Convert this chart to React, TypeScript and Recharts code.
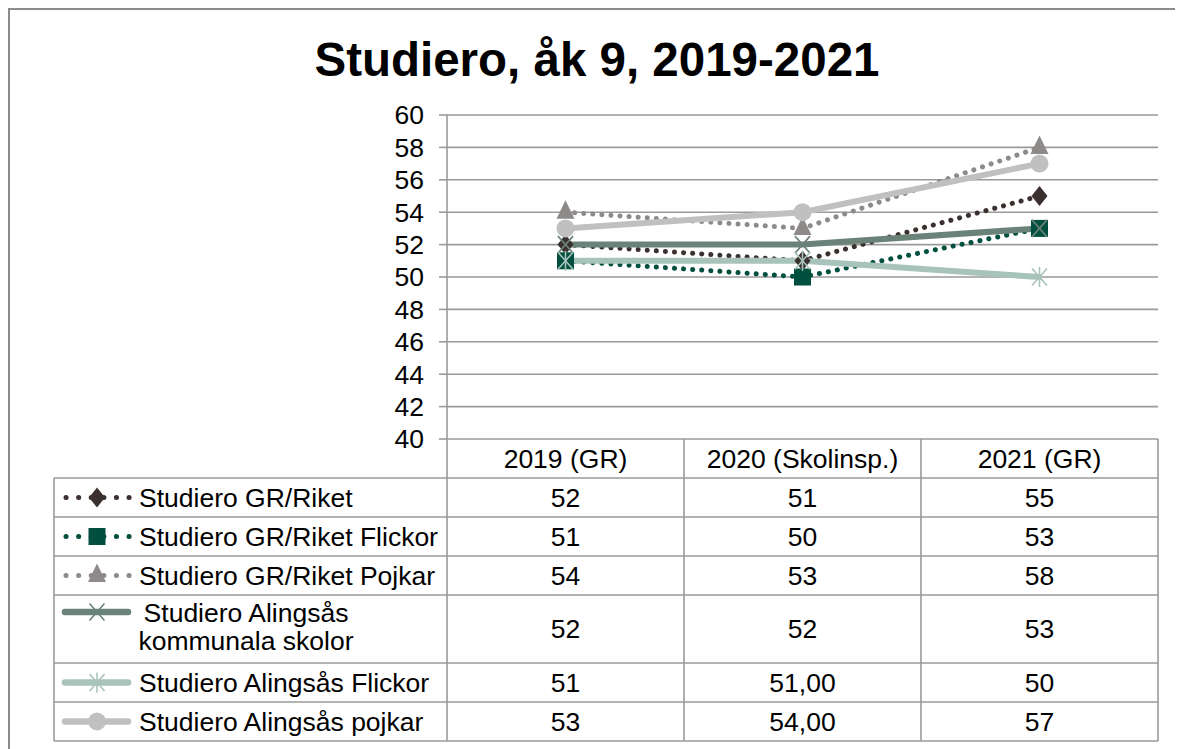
import React from 'react';
import { LineChart, Line, XAxis, YAxis, CartesianGrid } from 'recharts';

const title = 'Studiero, åk 9, 2019-2021';
const categories = ['2019 (GR)', '2020 (Skolinsp.)', '2021 (GR)'];
const seriesNames = [
  'Studiero GR/Riket',
  'Studiero GR/Riket Flickor',
  'Studiero GR/Riket Pojkar',
  'Studiero Alingsås kommunala skolor',
  'Studiero Alingsås Flickor',
  'Studiero Alingsås pojkar',
];
const grRiket = [52, 51, 55];
const grRiketFlickor = [51, 50, 53];
const grRiketPojkar = [54, 53, 58];
const alingsasKommunala = [52, 52, 53];
const alingsasFlickor = [51, 51, 50];
const alingsasPojkar = [53, 54, 57];
const tableLabels = [
  ['52', '51', '55'],
  ['51', '50', '53'],
  ['54', '53', '58'],
  ['52', '52', '53'],
  ['51', '51,00', '50'],
  ['53', '54,00', '57'],
];
const yTicks = [40, 42, 44, 46, 48, 50, 52, 54, 56, 58, 60];

const seriesValues = [grRiket, grRiketFlickor, grRiketPojkar, alingsasKommunala, alingsasFlickor, alingsasPojkar];
const keys = ['s0', 's1', 's2', 's3', 's4', 's5'];
const data = categories.map((c, i) => {
  const row: any = { cat: c };
  seriesValues.forEach((vals, s) => { row[keys[s]] = vals[i]; });
  return row;
});

type Style = { color: string; dotted: boolean; marker: string; width: number };
const styles: Style[] = [
  { color: '#3a302e', dotted: true, marker: 'diamond', width: 5 },
  { color: '#004f3f', dotted: true, marker: 'square', width: 5 },
  { color: '#8e8a8a', dotted: true, marker: 'triangle', width: 5 },
  { color: '#6a8278', dotted: false, marker: 'x', width: 6 },
  { color: '#a8c3bb', dotted: false, marker: 'star', width: 6 },
  { color: '#c0c0c0', dotted: false, marker: 'circle', width: 6 },
];

const FONT = '"Liberation Sans", Arial, sans-serif';
const FS = 26.5;
const W = 1175;
const H = 741;
const PLOT_LEFT = 439;
const PLOT_TOP = 107;
const PLOT_RIGHT = 1150;
const PLOT_BOTTOM = 431;
const YAXIS_W = 80;
const LEGEND_LEFT = 46;
const HEADER_H = 39;
const ROW_H = [39, 39, 39, 68, 39, 39];
const GRID = '#9a9a9a';

function Marker({ type, cx, cy, color }: { type: string; cx: number; cy: number; color: string }) {
  if (cx == null || cy == null) return null;
  switch (type) {
    case 'diamond':
      return <polygon points={`${cx},${cy - 10} ${cx + 8},${cy} ${cx},${cy + 10} ${cx - 8},${cy}`} fill={color} />;
    case 'square':
      return <rect x={cx - 8.5} y={cy - 8.5} width={17} height={17} fill={color} />;
    case 'triangle':
      return <polygon points={`${cx},${cy - 12} ${cx + 9},${cy + 6.5} ${cx - 9},${cy + 6.5}`} fill={color} />;
    case 'x':
      return (
        <g stroke={color} strokeWidth={1.6}>
          <line x1={cx - 7.5} y1={cy - 8.5} x2={cx + 7.5} y2={cy + 8.5} />
          <line x1={cx - 7.5} y1={cy + 8.5} x2={cx + 7.5} y2={cy - 8.5} />
        </g>
      );
    case 'star':
      return (
        <g stroke={color} strokeWidth={1.6}>
          <line x1={cx - 7.5} y1={cy - 8.5} x2={cx + 7.5} y2={cy + 8.5} />
          <line x1={cx - 7.5} y1={cy + 8.5} x2={cx + 7.5} y2={cy - 8.5} />
          <line x1={cx} y1={cy - 10} x2={cx} y2={cy + 10} />
        </g>
      );
    case 'circle':
    default:
      return <circle cx={cx} cy={cy} r={9} fill={color} />;
  }
}

function LegendIcon({ st, y }: { st: Style; y: number }) {
  const mid = LEGEND_LEFT + 43;
  return (
    <g>
      {st.dotted ? (
        <line x1={LEGEND_LEFT + 12} y1={y} x2={LEGEND_LEFT + 76} y2={y} stroke={st.color} strokeWidth={5} strokeDasharray="0.1 12.5" strokeLinecap="round" />
      ) : (
        <line x1={LEGEND_LEFT + 11} y1={y} x2={LEGEND_LEFT + 74} y2={y} stroke={st.color} strokeWidth={st.width + 0.5} strokeLinecap="round" />
      )}
      <Marker type={st.marker} cx={mid} cy={y} color={st.color} />
    </g>
  );
}

function Overlay() {
  const colW = (PLOT_RIGHT - PLOT_LEFT) / categories.length;
  const colX = categories.map((_, i) => PLOT_LEFT + i * colW);
  const headerBottom = PLOT_BOTTOM + HEADER_H;
  const rowTops: number[] = [];
  let acc = headerBottom;
  ROW_H.forEach((h) => { rowTops.push(acc); acc += h; });
  const tableBottom = acc;
  return (
    <svg width={W} height={H} style={{ position: 'absolute', left: 0, top: 0, pointerEvents: 'none' }} fontFamily={FONT}>
      <line x1={0} y1={1} x2={W} y2={1} stroke="#8c8c8c" strokeWidth={2} />
      <line x1={1} y1={0} x2={1} y2={H} stroke="#8c8c8c" strokeWidth={2} />
      <text x={589} y={68} textAnchor="middle" fontSize={47.5} fontWeight="bold" fill="#000">{title}</text>

      <g stroke={GRID} strokeWidth={1.6} fill="none">
        <line x1={PLOT_LEFT} y1={PLOT_BOTTOM} x2={PLOT_LEFT} y2={tableBottom} />
        {colX.slice(1).map((x, i) => <line key={'c' + i} x1={x} y1={PLOT_BOTTOM} x2={x} y2={tableBottom} />)}
        <line x1={PLOT_RIGHT} y1={PLOT_BOTTOM} x2={PLOT_RIGHT} y2={tableBottom} />
        <line x1={LEGEND_LEFT} y1={headerBottom} x2={LEGEND_LEFT} y2={tableBottom} />
        <line x1={LEGEND_LEFT} y1={headerBottom} x2={PLOT_RIGHT} y2={headerBottom} />
        {rowTops.map((t, i) => <line key={'r' + i} x1={LEGEND_LEFT} y1={t + ROW_H[i]} x2={PLOT_RIGHT} y2={t + ROW_H[i]} />)}
      </g>

      {categories.map((c, i) => (
        <text key={'h' + i} x={colX[i] + colW / 2} y={PLOT_BOTTOM + HEADER_H / 2 + 9} textAnchor="middle" fontSize={FS} fill="#000">{c}</text>
      ))}

      {seriesNames.map((name, s) => {
        const top = rowTops[s];
        const h = ROW_H[s];
        const twoLine = h > 50;
        const iconY = twoLine ? top + 17 : top + h / 2;
        return (
          <g key={'row' + s}>
            <LegendIcon st={styles[s]} y={iconY} />
            {twoLine ? (
              <text x={LEGEND_LEFT + 192} textAnchor="middle" fontSize={FS} fill="#000">
                <tspan x={LEGEND_LEFT + 192} y={top + 27}>{name.split(' ').slice(0, 2).join(' ')}</tspan>
                <tspan x={LEGEND_LEFT + 192} y={top + 55}>{name.split(' ').slice(2).join(' ')}</tspan>
              </text>
            ) : (
              <text x={LEGEND_LEFT + 85} y={top + h / 2 + 9} fontSize={FS} fill="#000">{name}</text>
            )}
            {tableLabels[s].map((lbl, i) => (
              <text key={'v' + i} x={colX[i] + colW / 2} y={top + h / 2 + 9} textAnchor="middle" fontSize={FS} fill="#000">{lbl}</text>
            ))}
          </g>
        );
      })}
    </svg>
  );
}

export default function App() {
  return (
    <div style={{ position: 'relative', width: W, height: H, background: '#fff' }}>
      <style>{'html,body{overflow:hidden;}'}</style>
      <LineChart
        width={W}
        height={H}
        data={data}
        margin={{ top: PLOT_TOP, right: W - PLOT_RIGHT, bottom: H - PLOT_BOTTOM, left: PLOT_LEFT - YAXIS_W }}
      >
        <CartesianGrid vertical={false} stroke={GRID} strokeWidth={1.6} />
        <XAxis dataKey="cat" scale="band" hide />
        <YAxis
          width={YAXIS_W}
          domain={[40, 60]}
          ticks={yTicks}
          interval={0}
          tickSize={8}
          tickMargin={15}
          axisLine={{ stroke: GRID, strokeWidth: 1.6 }}
          tickLine={{ stroke: GRID, strokeWidth: 1.6 }}
          tick={{ fill: '#000', fontSize: FS, fontFamily: FONT }}
        />
        {keys.map((k, s) => {
          const st = styles[s];
          return (
            <Line
              key={k}
              dataKey={k}
              name={seriesNames[s]}
              isAnimationActive={false}
              stroke={st.color}
              strokeWidth={st.width}
              strokeDasharray={st.dotted ? '0.1 9' : undefined}
              strokeLinecap="round"
              type="linear"
              dot={(p: any) => <Marker key={k + '-' + p.index} type={st.marker} cx={p.cx} cy={p.cy} color={st.color} />}
              activeDot={false}
            />
          );
        })}
      </LineChart>
      <Overlay />
    </div>
  );
}
